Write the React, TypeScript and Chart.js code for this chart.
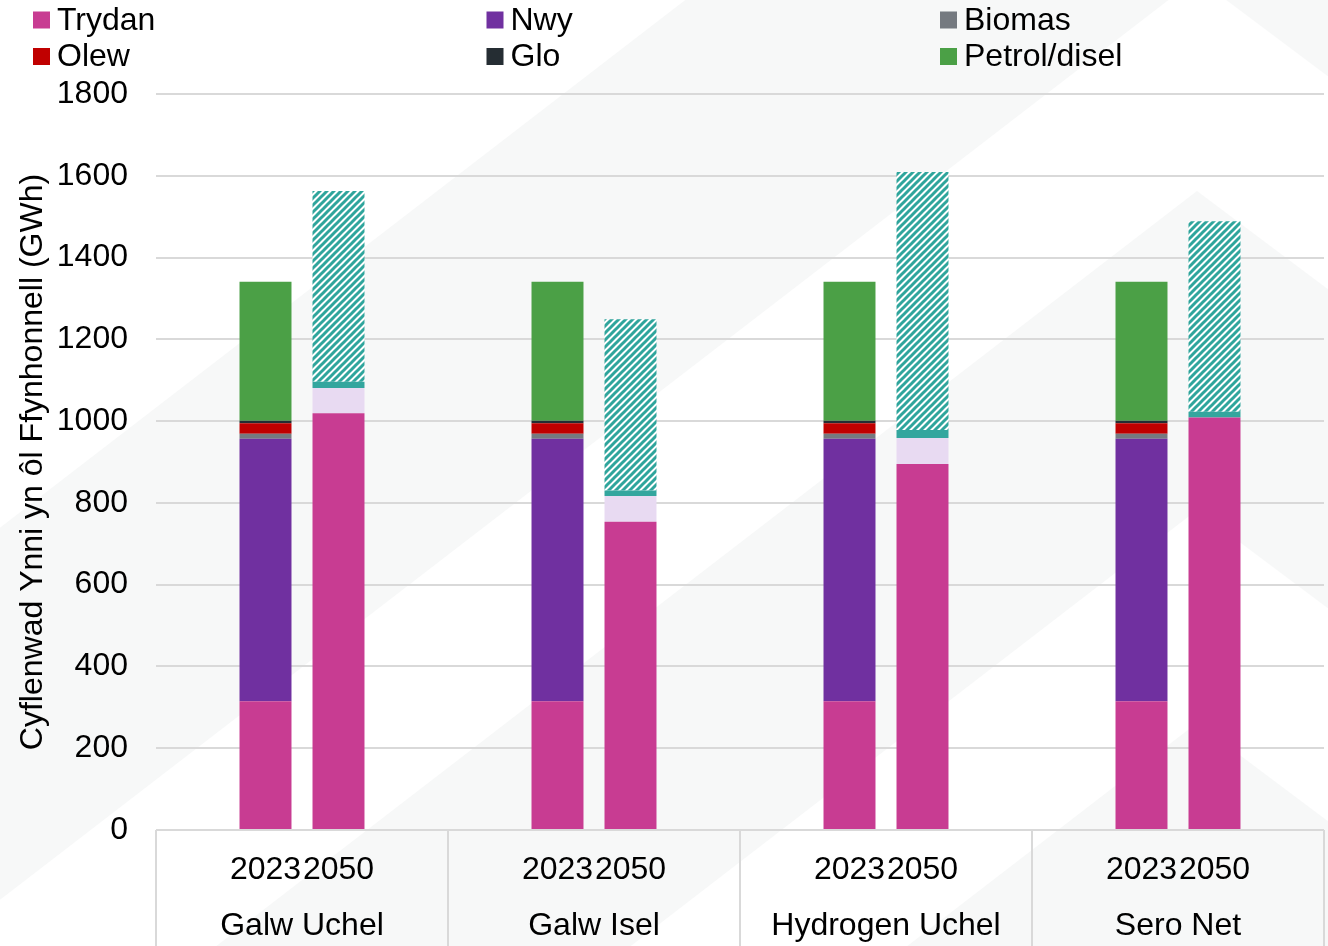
import React, { useEffect, useRef } from 'react';
import { Chart, registerables } from 'chart.js';

Chart.register(...registerables);

// ---------- DATA ----------
const groups = ['Galw Uchel', 'Galw Isel', 'Hydrogen Uchel', 'Sero Net'];
const years = ['2023', '2050'];

// 2023 supply (GWh) per scenario
const trydan2023 = [315, 315, 315, 315];
const nwy2023 = [642, 642, 642, 642];
const biomas2023 = [12, 12, 12, 12];
const olew2023 = [26, 26, 26, 26];
const glo2023 = [6, 6, 6, 6];
const petrol2023 = [340, 340, 340, 340];

// 2050 supply (GWh) per scenario
const trydan2050 = [1019, 754, 895, 1009];
const gwres2050 = [62, 63, 64, 0];
const rhwydwaith2050 = [15, 13, 19, 14];
const hydrogen2050 = [467, 419, 631, 466];

const yMin = 0;
const yMax = 1800;
const yStep = 200;

const yTitle = 'Cyflenwad Ynni yn ôl Ffynhonnell (GWh)';

const FONT = "'Liberation Sans', Arial, sans-serif";

// build category slots: blank, 2023, 2050, blank per group
const labels: string[] = groups.flatMap(() => ['', years[0], years[1], '']);
const slot2023 = (vals: number[]) => groups.flatMap((_, g) => [null, vals[g], null, null]);
const slot2050 = (vals: number[]) => groups.flatMap((_, g) => [null, null, vals[g], null]);
const slotBoth = (a: number[], b: number[]) => groups.flatMap((_, g) => [null, a[g], b[g], null]);

const LEGEND_COUNT = 6;

export default function App() {
  const ref = useRef<HTMLCanvasElement | null>(null);

  useEffect(() => {
    const canvas = ref.current;
    if (!canvas) return;
    const ctx0 = canvas.getContext('2d')!;

    // hatched pattern
    const T = 7;
    const pc = document.createElement('canvas');
    pc.width = T;
    pc.height = T;
    const p = pc.getContext('2d')!;
    p.fillStyle = '#ffffff';
    p.fillRect(0, 0, T, T);
    p.strokeStyle = '#2fa59c';
    p.lineWidth = 3;
    p.beginPath();
    p.moveTo(-1, T + 1); p.lineTo(T + 1, -1);
    p.moveTo(-2, 2); p.lineTo(2, -2);
    p.moveTo(T - 2, T + 2); p.lineTo(T + 2, T - 2);
    p.stroke();
    const pattern = ctx0.createPattern(pc, 'repeat')!;

    const bgPlugin = {
      id: 'bgChevrons',
      beforeDraw(chart: any) {
        const { ctx, width, height } = chart;
        ctx.save();
        ctx.fillStyle = '#ffffff';
        ctx.fillRect(0, 0, width, height);
        ctx.fillStyle = '#f7f8f8';
        const ax = 1197, sL = 0.77, sR = 0.75;
        const bands = [[-394, -22], [191, 510], [723, 2400]];
        for (const [a, b] of bands) {
          ctx.beginPath();
          ctx.moveTo(0, a + sL * ax);
          ctx.lineTo(ax, a);
          ctx.lineTo(width, a + sR * (width - ax));
          ctx.lineTo(width, b + sR * (width - ax));
          ctx.lineTo(ax, b);
          ctx.lineTo(0, b + sL * ax);
          ctx.closePath();
          ctx.fill();
        }
        ctx.restore();
      },
    };

    const legendPlugin = {
      id: 'gridLegend',
      afterDraw(chart: any) {
        const { ctx } = chart;
        ctx.save();
        ctx.font = `32px ${FONT}`;
        ctx.textBaseline = 'alphabetic';
        ctx.textAlign = 'left';
        for (let i = 0; i < LEGEND_COUNT; i++) {
          const ds = chart.data.datasets[i];
          const col = i % 3;
          const row = Math.floor(i / 3);
          const x0 = 33 + col * 453.5;
          const yc = 20 + row * 36.5;
          ctx.fillStyle = ds.backgroundColor;
          ctx.fillRect(x0, yc - 8.5, 17, 17);
          ctx.fillStyle = '#000000';
          ctx.fillText(ds.label, x0 + 24, yc + 9.5);
        }
        ctx.restore();
      },
    };

    const catAxisPlugin = {
      id: 'catAxis',
      afterDraw(chart: any) {
        const { ctx, height } = chart;
        const x = chart.scales.x;
        const { bottom, left, right } = chart.chartArea;
        const slot = x.getPixelForValue(1) - x.getPixelForValue(0);
        ctx.save();
        ctx.strokeStyle = '#d9d9d9';
        ctx.lineWidth = 2;
        ctx.beginPath();
        ctx.moveTo(left, bottom);
        ctx.lineTo(right, bottom);
        for (let g = 0; g <= groups.length; g++) {
          const bx = Math.round(x.getPixelForValue(g * 4) - slot / 2);
          ctx.moveTo(bx, bottom);
          ctx.lineTo(bx, height);
        }
        ctx.stroke();
        ctx.fillStyle = '#000000';
        ctx.font = `32px ${FONT}`;
        ctx.textAlign = 'center';
        ctx.textBaseline = 'alphabetic';
        groups.forEach((name, g) => {
          const cx = (x.getPixelForValue(g * 4 + 1) + x.getPixelForValue(g * 4 + 2)) / 2;
          ctx.fillText(name, cx, bottom + 105);
        });
        ctx.restore();
      },
    };

    const chart = new Chart(canvas, {
      type: 'bar',
      data: {
        labels,
        datasets: [
          { label: 'Trydan', data: slotBoth(trydan2023, trydan2050), backgroundColor: '#c83c92' },
          { label: 'Nwy', data: slot2023(nwy2023), backgroundColor: '#7030a0' },
          { label: 'Biomas', data: slot2023(biomas2023), backgroundColor: '#757a80' },
          { label: 'Olew', data: slot2023(olew2023), backgroundColor: '#c00000' },
          { label: 'Glo', data: slot2023(glo2023), backgroundColor: '#252d33' },
          { label: 'Petrol/disel', data: slot2023(petrol2023), backgroundColor: '#4ba046' },
          { label: 'Gwres amgylchynol', data: slot2050(gwres2050), backgroundColor: '#e8daf2' },
          { label: 'Rhwydwaith gwres', data: slot2050(rhwydwaith2050), backgroundColor: '#33a69e' },
          { label: 'Hydrogen', data: slot2050(hydrogen2050), backgroundColor: pattern as any },
        ],
      },
      options: {
        responsive: false,
        animation: false,
        layout: { padding: { top: 94, right: 4, bottom: 0, left: 0 } },
        datasets: {
          bar: { categoryPercentage: 1, barPercentage: 0.712, borderWidth: 0 },
        },
        plugins: {
          legend: { display: false },
          tooltip: { enabled: false },
          title: { display: false },
        },
        scales: {
          x: {
            stacked: true,
            grid: { display: false },
            border: { display: false },
            ticks: {
              autoSkip: false,
              maxRotation: 0,
              minRotation: 0,
              padding: 13,
              color: '#000000',
              font: { family: FONT, size: 32 },
            },
            afterFit: (s: any) => { s.height = 116; },
          },
          y: {
            stacked: true,
            min: yMin,
            max: yMax,
            border: { display: false },
            grid: { color: '#d9d9d9', lineWidth: 2, drawTicks: false },
            ticks: {
              stepSize: yStep,
              padding: 28,
              color: '#000000',
              font: { family: FONT, size: 32 },
              callback: (v: any) => String(v),
            },
            title: {
              display: true,
              text: yTitle,
              color: '#000000',
              font: { family: FONT, size: 32 },
              padding: { top: 14, bottom: 0 },
            },
            afterFit: (s: any) => { s.width = 156; },
          },
        },
      },
      plugins: [bgPlugin, legendPlugin, catAxisPlugin],
    });

    return () => chart.destroy();
  }, []);

  return (
    <div style={{ position: 'absolute', left: 0, top: 0, width: 1328, height: 946 }}>
      <canvas ref={ref} width={1328} height={946} style={{ display: 'block' }} />
    </div>
  );
}
